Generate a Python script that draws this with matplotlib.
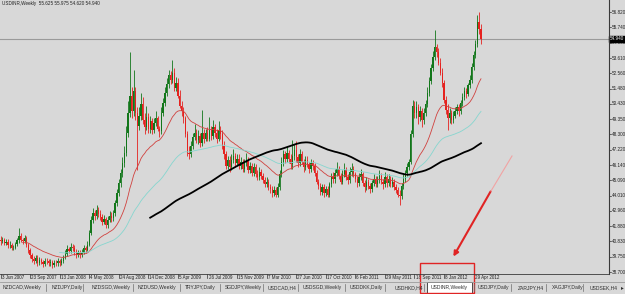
import numpy as np
import pandas as pd
import matplotlib
matplotlib.use("Agg")
import matplotlib.pyplot as plt
from matplotlib.patches import Rectangle, FancyArrowPatch
from matplotlib.transforms import blended_transform_factory

# ---- data (weekly USDINR) ----
symbol = "USDINR,Weekly"
first_open = 40.95
close = [
    40.85, 40.95, 40.70, 40.80, 40.55, 40.60, 40.35, 40.40, 40.65, 40.90,
    41.20, 40.95, 40.85, 41.05, 40.60, 40.20, 39.85, 39.60, 39.45, 39.70,
    39.35, 39.55, 39.40, 39.25, 39.50, 39.45, 39.30, 39.40, 39.20, 39.35,
    39.30, 39.45, 39.35, 39.50, 39.70, 39.95, 40.30, 40.15, 40.45, 40.35,
    40.10, 39.90, 40.00, 39.85, 40.05, 40.35, 40.25, 40.60, 41.40, 42.30,
    42.80, 42.60, 43.00, 42.75, 42.55, 42.20, 42.40, 41.95, 42.35, 42.60,
    42.45, 42.80, 43.50, 44.20, 44.90, 45.60, 46.30, 47.00, 48.40, 49.80,
    51.00, 49.90, 51.30, 49.80, 48.90, 49.60, 50.40, 49.30, 48.80, 49.50,
    48.70, 49.20, 48.60, 49.10, 49.40, 48.70, 48.50, 49.80, 50.50, 51.20,
    51.80, 52.40, 52.10, 52.60, 51.50, 51.90, 51.00, 50.30, 49.90, 49.40,
    48.30, 47.00, 46.90, 47.50, 48.10, 48.40, 47.90, 48.20, 47.70, 48.40,
    48.00, 48.40, 48.00, 48.60, 48.20, 48.80, 48.40, 48.00, 48.60, 48.30,
    47.50, 46.90, 46.10, 46.50, 46.00, 46.50, 46.80, 46.30, 46.60, 46.10,
    46.40, 45.90, 46.30, 46.50, 45.80, 46.10, 45.60, 46.00, 45.50, 45.30,
    45.70, 45.40, 45.10, 44.80, 45.00, 44.60, 44.50, 44.20, 44.40, 44.10,
    44.60, 45.50, 46.40, 46.90, 46.60, 47.00, 46.60, 46.20, 46.80, 47.20,
    46.70, 46.30, 46.90, 46.40, 46.00, 46.50, 46.20, 45.90, 46.30, 46.10,
    45.60, 45.00, 44.70, 44.30, 44.60, 44.20, 44.50, 44.10, 44.80, 45.30,
    45.20, 45.60, 45.90, 45.40, 45.00, 45.50, 45.80, 45.30, 45.10, 45.70,
    45.90, 45.50, 45.20, 44.90, 45.30, 45.50, 44.90, 44.60, 45.00, 44.70,
    44.50, 44.90, 45.20, 44.80, 45.10, 45.40, 45.00, 44.80, 45.30, 44.90,
    45.20, 44.80, 45.00, 44.60, 44.40, 44.10, 44.00, 44.70, 45.20, 45.60,
    46.00, 46.40, 48.30, 50.30, 49.80, 50.20, 49.50, 49.90, 49.30, 49.80,
    50.40, 51.20, 52.00, 52.90, 53.70, 54.40, 54.00, 53.30, 52.60, 51.90,
    50.70, 50.00, 49.40, 49.80, 49.30, 49.60, 49.90, 50.20, 49.90, 50.50,
    50.90, 51.30, 51.10, 51.70, 52.10, 53.00, 53.80, 54.60, 56.10, 55.625,
    54.94,
]
high = [
    41.20, 41.15, 41.10, 41.00, 41.00, 40.85, 40.75, 40.60, 40.80, 41.10,
    41.75, 41.40, 41.10, 41.30, 41.20, 40.75, 40.35, 40.05, 39.80, 39.90,
    39.85, 39.75, 39.70, 39.55, 39.70, 39.70, 39.60, 39.60, 39.55, 39.55,
    39.55, 39.65, 39.60, 39.70, 39.90, 40.20, 40.55, 40.45, 40.75, 40.65,
    40.55, 40.30, 40.25, 40.20, 40.30, 40.55, 40.50, 40.85, 41.60, 42.60,
    43.15, 43.05, 43.35, 43.25, 43.00, 42.75, 42.70, 42.55, 42.60, 42.95,
    42.85, 43.00, 43.75, 44.50, 45.20, 45.90, 46.70, 47.50, 48.90, 50.60,
    54.00, 51.60, 52.80, 51.60, 50.20, 50.20, 51.20, 50.90, 49.80, 50.30,
    49.80, 49.60, 49.40, 49.40, 49.90, 49.60, 48.90, 50.20, 50.80, 51.60,
    52.20, 52.80, 52.70, 53.50, 52.90, 52.30, 52.20, 51.40, 50.60, 50.20,
    49.60, 48.50, 47.50, 47.80, 48.40, 49.00, 48.70, 48.60, 48.40, 50.00,
    48.70, 48.70, 48.80, 49.50, 48.90, 49.30, 49.00, 48.70, 49.20, 48.90,
    48.60, 47.80, 47.10, 46.80, 46.80, 46.90, 47.30, 47.00, 46.90, 46.90,
    46.70, 46.60, 46.60, 47.00, 46.70, 46.40, 46.30, 46.30, 46.20, 45.80,
    46.00, 45.90, 45.60, 45.30, 45.30, 45.20, 44.80, 44.70, 44.70, 44.60,
    44.90, 45.80, 46.70, 47.20, 47.10, 47.50, 47.20, 46.90, 47.90, 47.60,
    47.80, 46.90, 47.30, 47.10, 46.60, 46.80, 46.80, 46.40, 46.60, 46.50,
    46.30, 45.80, 45.20, 44.90, 44.80, 44.80, 44.70, 44.70, 45.00, 45.60,
    45.70, 45.90, 46.40, 46.10, 45.60, 45.80, 46.30, 46.00, 45.50, 46.00,
    46.30, 46.10, 45.70, 45.40, 45.60, 45.90, 45.70, 45.10, 45.30, 45.20,
    44.90, 45.10, 45.50, 45.40, 45.40, 45.80, 45.60, 45.20, 45.70, 45.50,
    45.50, 45.40, 45.30, 45.20, 44.80, 44.60, 44.40, 44.90, 45.50, 45.80,
    46.30, 46.60, 48.60, 50.70, 50.60, 50.60, 50.40, 50.30, 50.10, 50.10,
    50.70, 51.60, 52.30, 53.20, 54.10, 55.60, 54.60, 54.30, 53.60, 52.90,
    52.10, 51.00, 50.40, 50.10, 50.00, 49.90, 50.20, 50.40, 50.40, 50.70,
    51.20, 51.60, 51.50, 51.90, 52.40, 53.30, 54.10, 54.90, 56.60, 56.82,
    55.975,
]
low = [
    40.60, 40.70, 40.55, 40.55, 40.35, 40.40, 40.20, 40.20, 40.30, 40.50,
    40.75, 40.80, 40.65, 40.70, 40.45, 40.00, 39.70, 39.40, 39.25, 39.35,
    39.15, 39.20, 39.25, 39.05, 39.10, 39.25, 39.10, 39.15, 39.00, 39.05,
    39.10, 39.15, 39.15, 39.20, 39.35, 39.60, 39.80, 40.00, 40.00, 40.15,
    39.90, 39.70, 39.75, 39.65, 39.75, 39.95, 40.05, 40.15, 40.50, 41.25,
    42.10, 42.35, 42.40, 42.50, 42.30, 42.00, 42.05, 41.75, 41.80, 42.15,
    42.20, 42.25, 42.60, 43.30, 44.00, 44.60, 45.30, 46.00, 46.80, 48.10,
    49.50, 49.40, 49.60, 49.30, 45.80, 48.60, 49.30, 49.00, 48.30, 48.60,
    48.40, 48.40, 48.30, 48.40, 48.90, 48.50, 48.10, 48.30, 49.60, 50.30,
    51.00, 51.50, 51.80, 51.90, 51.30, 51.30, 50.80, 50.10, 49.60, 49.10,
    48.10, 46.80, 46.60, 46.70, 47.30, 47.90, 47.70, 47.60, 47.40, 47.50,
    47.70, 47.80, 47.80, 47.80, 47.90, 48.00, 48.10, 47.70, 47.80, 48.00,
    47.30, 46.60, 45.90, 45.90, 45.70, 45.80, 46.30, 46.00, 46.10, 45.90,
    45.90, 45.70, 45.70, 46.10, 45.60, 45.60, 45.40, 45.40, 45.30, 45.10,
    45.10, 45.20, 44.90, 44.60, 44.60, 44.40, 44.20, 43.90, 44.00, 43.90,
    43.90, 44.40, 45.30, 46.10, 46.30, 46.40, 46.30, 45.90, 45.90, 46.50,
    46.40, 46.00, 46.10, 46.20, 45.70, 45.80, 46.00, 45.60, 45.70, 45.80,
    45.40, 44.80, 44.50, 44.10, 44.10, 43.90, 44.00, 43.90, 43.90, 44.60,
    44.90, 44.90, 45.40, 45.20, 44.80, 44.80, 45.30, 45.10, 44.80, 44.90,
    45.40, 45.30, 45.00, 44.60, 44.70, 45.10, 44.70, 44.30, 44.40, 44.50,
    44.20, 44.30, 44.70, 44.60, 44.60, 44.90, 44.80, 44.50, 44.60, 44.60,
    44.70, 44.60, 44.60, 44.40, 44.20, 43.90, 43.40, 43.80, 44.50, 45.00,
    45.40, 45.80, 46.20, 48.10, 49.40, 49.40, 49.00, 49.20, 48.80, 49.00,
    49.60, 50.20, 51.00, 51.80, 52.70, 53.50, 53.70, 53.10, 52.40, 51.60,
    50.50, 49.70, 48.60, 49.10, 49.00, 49.10, 49.40, 49.70, 49.60, 49.70,
    50.30, 50.70, 50.80, 51.00, 51.50, 51.90, 52.80, 53.60, 54.40, 55.30,
    54.62,
]
date_labels = ["3 Jun 2007", "23 Sep 2007", "13 Jan 2008", "4 May 2008", "24 Aug 2008",
               "14 Dec 2008", "5 Apr 2009", "26 Jul 2009", "15 Nov 2009", "7 Mar 2010",
               "27 Jun 2010", "17 Oct 2010", "6 Feb 2011", "29 May 2011", "18 Sep 2011",
               "8 Jan 2012", "29 Apr 2012"]
date_step = 16
price_labels = [56.820, 55.740, 54.660, 53.610, 52.560, 51.480, 50.430, 49.350, 48.300,
                47.220, 46.140, 45.090, 44.010, 42.960, 41.880, 40.830, 39.750, 38.700]
tabs = ["NZDCAD,Weekly", "NZDJPY,Daily", "NZDSGD,Weekly", "NZDUSD,Weekly", "TRYJPY,Daily",
        "SGDJPY,Weekly", "USDCAD,H4", "USDSGD,Weekly", "USDDKK,Daily", "USDHKD,H4",
        "USDINR,Weekly", "USDJPY,Daily", "ZARJPY,H4", "XAGJPY,Daily", "USDSEK,H4"]

# ---- indicators ----
def smma(x, n):
    out = np.full(len(x), np.nan)
    out[n - 1] = x[:n].mean()
    for i in range(n, len(x)):
        out[i] = (out[i - 1] * (n - 1) + x[i]) / n
    return out

c = np.array(close)
o = np.concatenate([[first_open], c[:-1]])
h = np.maximum(np.array(high), np.maximum(o, c))
l = np.minimum(np.array(low), np.minimum(o, c))
idx = np.arange(len(c))
up = c >= o

ma_fast = smma(c, 13)
ma_mid = smma(c, 33)
ma_slow = pd.Series(c).rolling(100, min_periods=82).mean().to_numpy()

BG = "#d8d8d8"
GREEN = "#12761a"
RED = "#e5221f"
W, H = 625, 294
FONT = "Liberation Sans"

fig = plt.figure(figsize=(W / 100, H / 100), dpi=100)
fig.patch.set_facecolor(BG)
ax = fig.add_axes([0, (H - 274) / H, 609 / W, 274 / H])
ax.set_facecolor(BG)
for s in ax.spines.values():
    s.set_visible(False)
ax.set_xticks([])
ax.set_yticks([])

# pixel geometry of the MT4 window
ax.set_ylim(38.7 - 2 * 18.12 / 260, 38.7 + 272 * 18.12 / 260)
ax.set_xlim(-0.5 / 1.848, 608.5 / 1.848)

# candles
body = np.where(np.abs(c - o) < 0.04, 0.04, c - o)
for mask, col in ((up, GREEN), (~up, RED)):
    ax.vlines(idx[mask], l[mask], h[mask], color=col, lw=0.6, zorder=2)
    ax.bar(idx[mask], body[mask], bottom=o[mask], width=0.7, color=col, lw=0, zorder=3)

# moving averages
ax.plot(idx, ma_fast, color="#d0413e", lw=0.6, zorder=4)
ax.plot(idx, ma_mid, color="#86d6cf", lw=0.6, zorder=4)
ax.plot(idx, ma_slow, color="black", lw=1.3, zorder=5)

# bid line
bid = c[-1]
ax.axhline(bid, color="#9a9a9a", lw=0.8, zorder=1)

# price scale
tr = blended_transform_factory(ax.transAxes, ax.transData)
for v in price_labels:
    ax.plot([1.0, 1.004], [v, v], transform=tr, color="#303030", lw=0.5, clip_on=False)
    ax.text(1.004, v, f"{v:.3f}", transform=tr, fontsize=3.3, family=FONT,
            color="#202020", va="center", ha="left", clip_on=False)
ax.text(1.001, bid, f"{bid:.3f}", transform=tr, fontsize=3.3, family=FONT,
        color="white", va="center", ha="left", clip_on=False,
        bbox=dict(boxstyle="square,pad=0.15", fc="black", ec="black"))

# date scale
trx = blended_transform_factory(ax.transData, ax.transAxes)
for k, lab in enumerate(date_labels):
    b = k * date_step
    ax.plot([b, b], [0, -0.014], transform=trx, color="#303030", lw=0.5, clip_on=False)
    ax.text(b + 0.6, -0.013, lab, transform=trx, fontsize=3.25, family=FONT,
            color="#202020", va="center", ha="left", clip_on=False)

# header text
ax.text(0.003, 0.988, f"{symbol}  {o[-1]:.3f} {h[-1]:.3f} {l[-1]:.3f} {c[-1]:.3f}",
        transform=ax.transAxes, fontsize=3.3, family=FONT, color="#202020",
        va="center", ha="left")

# ---- overlay in pixel coordinates: frame, tab bar, markup ----
ov = fig.add_axes([0, 0, 1, 1], zorder=10)
ov.set_xlim(0, W)
ov.set_ylim(H, 0)
ov.axis("off")
ov.patch.set_alpha(0)

ov.plot([609, 609], [0, 274], color="#3a3a3a", lw=0.8)
ov.plot([0, 609], [274, 274], color="#3a3a3a", lw=0.6)
ov.plot([0, W], [281.5, 281.5], color="#9c9c9c", lw=0.6)

tab_x = [3, 52, 92, 138, 185, 225, 268, 303, 350, 395, 431, 478, 518, 552, 590]
sep_x = [46, 83, 133, 180, 220, 263, 298, 345, 385, 424, 474, 511, 546, 583]
for x, name in zip(tab_x, tabs):
    if name == symbol:
        ov.add_patch(Rectangle((427, 282), 45, 11, fc="white", ec="#303030", lw=0.6))
    ov.text(x, 287.5, name, fontsize=3.6, family=FONT, color="#303030",
            va="center", ha="left")
for x in sep_x:
    ov.plot([x, x], [284, 291], color="#707070", lw=0.5)
ov.text(622, 287.5, "\u25b8", fontsize=4, color="#303030", va="center", ha="center")

# red highlight box and arrow
ov.add_patch(Rectangle((420, 263), 54, 30, fc="none", ec="#e02424", lw=1.0))
ov.plot([512, 491], [156, 191], color="#f1a3a3", lw=0.8)
ov.add_patch(FancyArrowPatch((492, 189), (452, 259), arrowstyle="-|>", mutation_scale=7,
                             color="#e02424", lw=1.5))

fig.savefig("out.png", dpi=100, facecolor=BG)
